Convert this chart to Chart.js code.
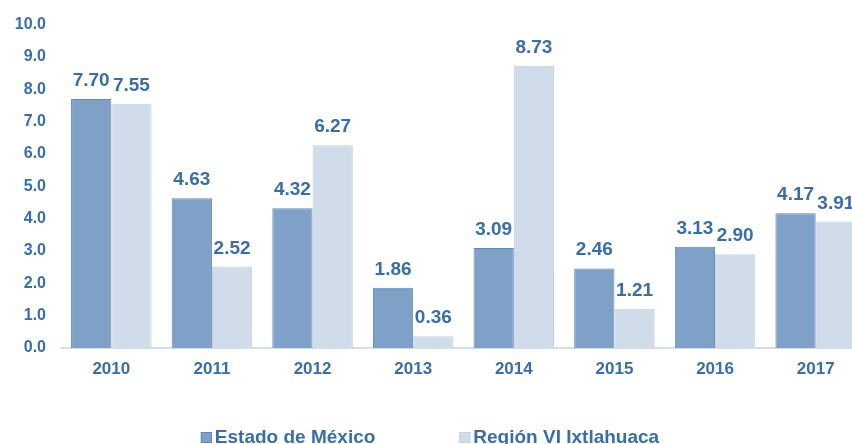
<!DOCTYPE html>
<html>
<head>
<meta charset="utf-8">
<script src="https://cdn.jsdelivr.net/npm/chart.js@4.4.1/dist/chart.umd.min.js"></script>
<style>
  html, body { margin: 0; padding: 0; background: #fff; overflow: hidden; }
  #wrap { width: 866px; height: 444px; position: relative; }
</style>
</head>
<body>
<div id="wrap"><canvas id="barChart"></canvas></div>
<script>
// datos
var years = ['2010', '2011', '2012', '2013', '2014', '2015', '2016', '2017'];
var estadoMexico = [7.70, 4.63, 4.32, 1.86, 3.09, 2.46, 3.13, 4.17];
var regionVI = [7.55, 2.52, 6.27, 0.36, 8.73, 1.21, 2.90, 3.91];
var seriesNames = ['Estado de México', 'Región VI Ixtlahuaca'];

var textColor = '#3a6ea8';
var fontFamily = '"Liberation Sans", Arial, sans-serif';

// etiquetas de valor encima de cada barra
var valueLabels = {
    id: 'valueLabels',
    afterDatasetsDraw: function (chart) {
        var ctx = chart.ctx;
        ctx.save();
        ctx.font = 'bold 19px ' + fontFamily;
        ctx.fillStyle = textColor;
        ctx.textAlign = 'center';
        ctx.textBaseline = 'alphabetic';
        chart.data.datasets.forEach(function (ds, i) {
            chart.getDatasetMeta(i).data.forEach(function (bar, j) {
                ctx.fillText(ds.data[j].toFixed(2), bar.x, bar.y - 13);
            });
        });
        ctx.restore();
    }
};

// leyenda propia (la de Chart.js no deja separar tanto los elementos)
var bottomLegend = {
    id: 'bottomLegend',
    afterDraw: function (chart) {
        var ctx = chart.ctx;
        var box = 11, gapBox = 3, gapItems = 84;
        ctx.save();
        ctx.font = 'bold 19px ' + fontFamily;
        var items = chart.data.datasets.map(function (ds) {
            return { text: ds.label, color: ds.backgroundColor, border: ds.borderColor, w: box + gapBox + ctx.measureText(ds.label).width };
        });
        var total = items.reduce(function (s, it) { return s + it.w; }, 0) + gapItems * (items.length - 1);
        var x = 430 - total / 2;
        var baseY = 443;
        items.forEach(function (it) {
            ctx.fillStyle = it.color;
            ctx.fillRect(x, baseY - box, box, box);
            ctx.strokeStyle = it.border;
            ctx.lineWidth = 1;
            ctx.strokeRect(x + 0.5, baseY - box + 0.5, box - 1, box - 1);
            ctx.fillStyle = textColor;
            ctx.textAlign = 'left';
            ctx.textBaseline = 'alphabetic';
            ctx.fillText(it.text, x + box + gapBox, baseY);
            x += it.w + gapItems;
        });
        ctx.restore();
    }
};

var ctxBar = document.getElementById('barChart').getContext('2d');
var barChart = new Chart(ctxBar, {
    type: 'bar',
    data: {
        labels: years,
        datasets: [{
            label: seriesNames[0],
            data: estadoMexico,
            backgroundColor: '#7fa1c8',
            borderColor: '#6089b9',
            borderWidth: 1
        }, {
            label: seriesNames[1],
            data: regionVI,
            backgroundColor: '#d0dcea',
            borderColor: '#c2d2e4',
            borderWidth: 1
        }]
    },
    options: {
        responsive: true,
        maintainAspectRatio: false,
        animation: false,
        layout: { padding: { top: 22, right: 0, bottom: 0, left: 0 } },
        datasets: { bar: { categoryPercentage: 0.8, barPercentage: 1.0 } },
        plugins: {
            legend: { display: false },
            tooltip: { enabled: false }
        },
        scales: {
            x: {
                grid: { display: false, drawTicks: false },
                border: { display: true, color: '#d3deeb', width: 2 },
                ticks: {
                    color: textColor,
                    font: { family: fontFamily, size: 17, weight: 'bold' },
                    padding: 11
                },
                afterFit: function (scale) { scale.height = 96; }
            },
            y: {
                min: 0,
                max: 10,
                grid: { display: false, drawTicks: false },
                border: { display: false },
                ticks: {
                    stepSize: 1,
                    color: textColor,
                    font: { family: fontFamily, size: 16, weight: 'bold' },
                    padding: 15,
                    callback: function (v) { return v.toFixed(1); }
                },
                afterFit: function (scale) { scale.width = 61; }
            }
        }
    },
    plugins: [valueLabels, bottomLegend]
});
</script>
</body>
</html>
